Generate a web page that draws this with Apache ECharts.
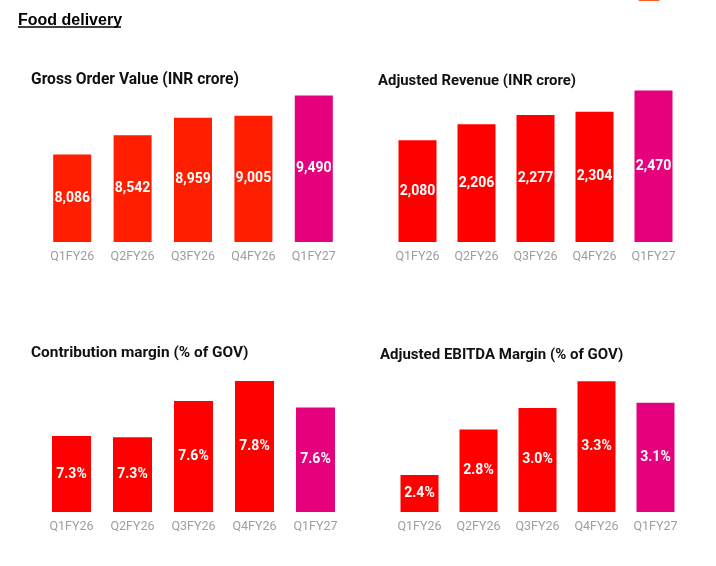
<!DOCTYPE html>
<html>
<head>
<meta charset="utf-8">
<script src="https://cdn.jsdelivr.net/npm/echarts@6/dist/echarts.min.js"></script>
<style>html,body{margin:0;padding:0;background:#fff}#c{width:716px;height:566px}</style>
</head>
<body>
<div id="c"></div>
<script>
const categories = ['Q1FY26', 'Q2FY26', 'Q3FY26', 'Q4FY26', 'Q1FY27'];
const grossOrderValue = [8086, 8542, 8959, 9005, 9490];
const adjustedRevenue = [2080, 2206, 2277, 2304, 2470];
const contributionMargin = [7.30, 7.29, 7.62, 7.80, 7.56];
const adjustedEbitdaMargin = [2.39, 2.83, 3.04, 3.30, 3.09];
const panelTitles = ['Gross Order Value (INR crore)', 'Adjusted Revenue (INR crore)', 'Contribution margin (% of GOV)', 'Adjusted EBITDA Margin (% of GOV)'];
const headerText = 'Food delivery';

const FONT = 'Roboto';
const MAGENTA = '#E5007D';
const fmtInt = v => v.toLocaleString('en-US');
const fmtPct = v => v.toFixed(1) + '%';

const grids = [
  {left: 42, width: 302, top: 74, height: 168},
  {left: 388, width: 295, top: 74, height: 168},
  {left: 41, width: 305, top: 358, height: 154},
  {left: 390, width: 295, top: 358, height: 154}
];
const yRanges = [[6000, 10000], [1280, 2600], [6.61, 8.01], [2.03, 3.525]];
const barWidths = [38, 38, 39, 38];
const reds = ['#FF1E00', '#FF0000', '#FF0000', '#FF0000'];
const seriesData = [grossOrderValue, adjustedRevenue, contributionMargin, adjustedEbitdaMargin];
const formatters = [fmtInt, fmtInt, fmtPct, fmtPct];
const titlePos = [[31, 72], [378, 74], [31, 346], [380, 348]];
const titleSizes = [15.6, 14.9, 15.4, 15.0];

const chart = echarts.init(document.getElementById('c'), null, {renderer: 'canvas'});
chart.setOption({
  backgroundColor: '#ffffff',
  animation: false,
  title: [
    {text: headerText, left: 18, top: 13, padding: 0, textStyle: {fontFamily: 'Liberation Sans', fontWeight: 'bold', fontSize: 16, color: '#000'}}
  ].concat(panelTitles.map((t, i) => ({
    text: t, left: titlePos[i][0], top: titlePos[i][1], padding: 0,
    textStyle: {fontFamily: FONT, fontWeight: 'bold', fontSize: titleSizes[i], color: '#111'}
  }))),
  grid: grids,
  xAxis: grids.map((g, i) => ({
    type: 'category', gridIndex: i, data: categories,
    axisLine: {show: false}, axisTick: {show: false},
    axisLabel: {color: '#9E9E9E', fontFamily: FONT, fontSize: 12.5, margin: 8}
  })),
  yAxis: grids.map((g, i) => ({
    type: 'value', gridIndex: i, min: yRanges[i][0], max: yRanges[i][1],
    show: false, splitLine: {show: false}
  })),
  series: seriesData.map((d, i) => ({
    type: 'bar', xAxisIndex: i, yAxisIndex: i, data: d, barWidth: barWidths[i],
    itemStyle: {color: p => p.dataIndex === d.length - 1 ? MAGENTA : reds[i]},
    label: {
      show: true, position: 'inside', color: '#fff', fontFamily: FONT,
      fontWeight: 'bold', fontSize: 14, formatter: p => formatters[i](p.value)
    }
  })),
  graphic: [
    {type: 'line', shape: {x1: 18, y1: 27, x2: 121, y2: 27}, style: {stroke: '#000', lineWidth: 1.3}},
    {type: 'rect', shape: {x: 638, y: -3, width: 22, height: 4, r: 2}, style: {fill: '#FF5A1F'}}
  ]
});
</script>
</body>
</html>
